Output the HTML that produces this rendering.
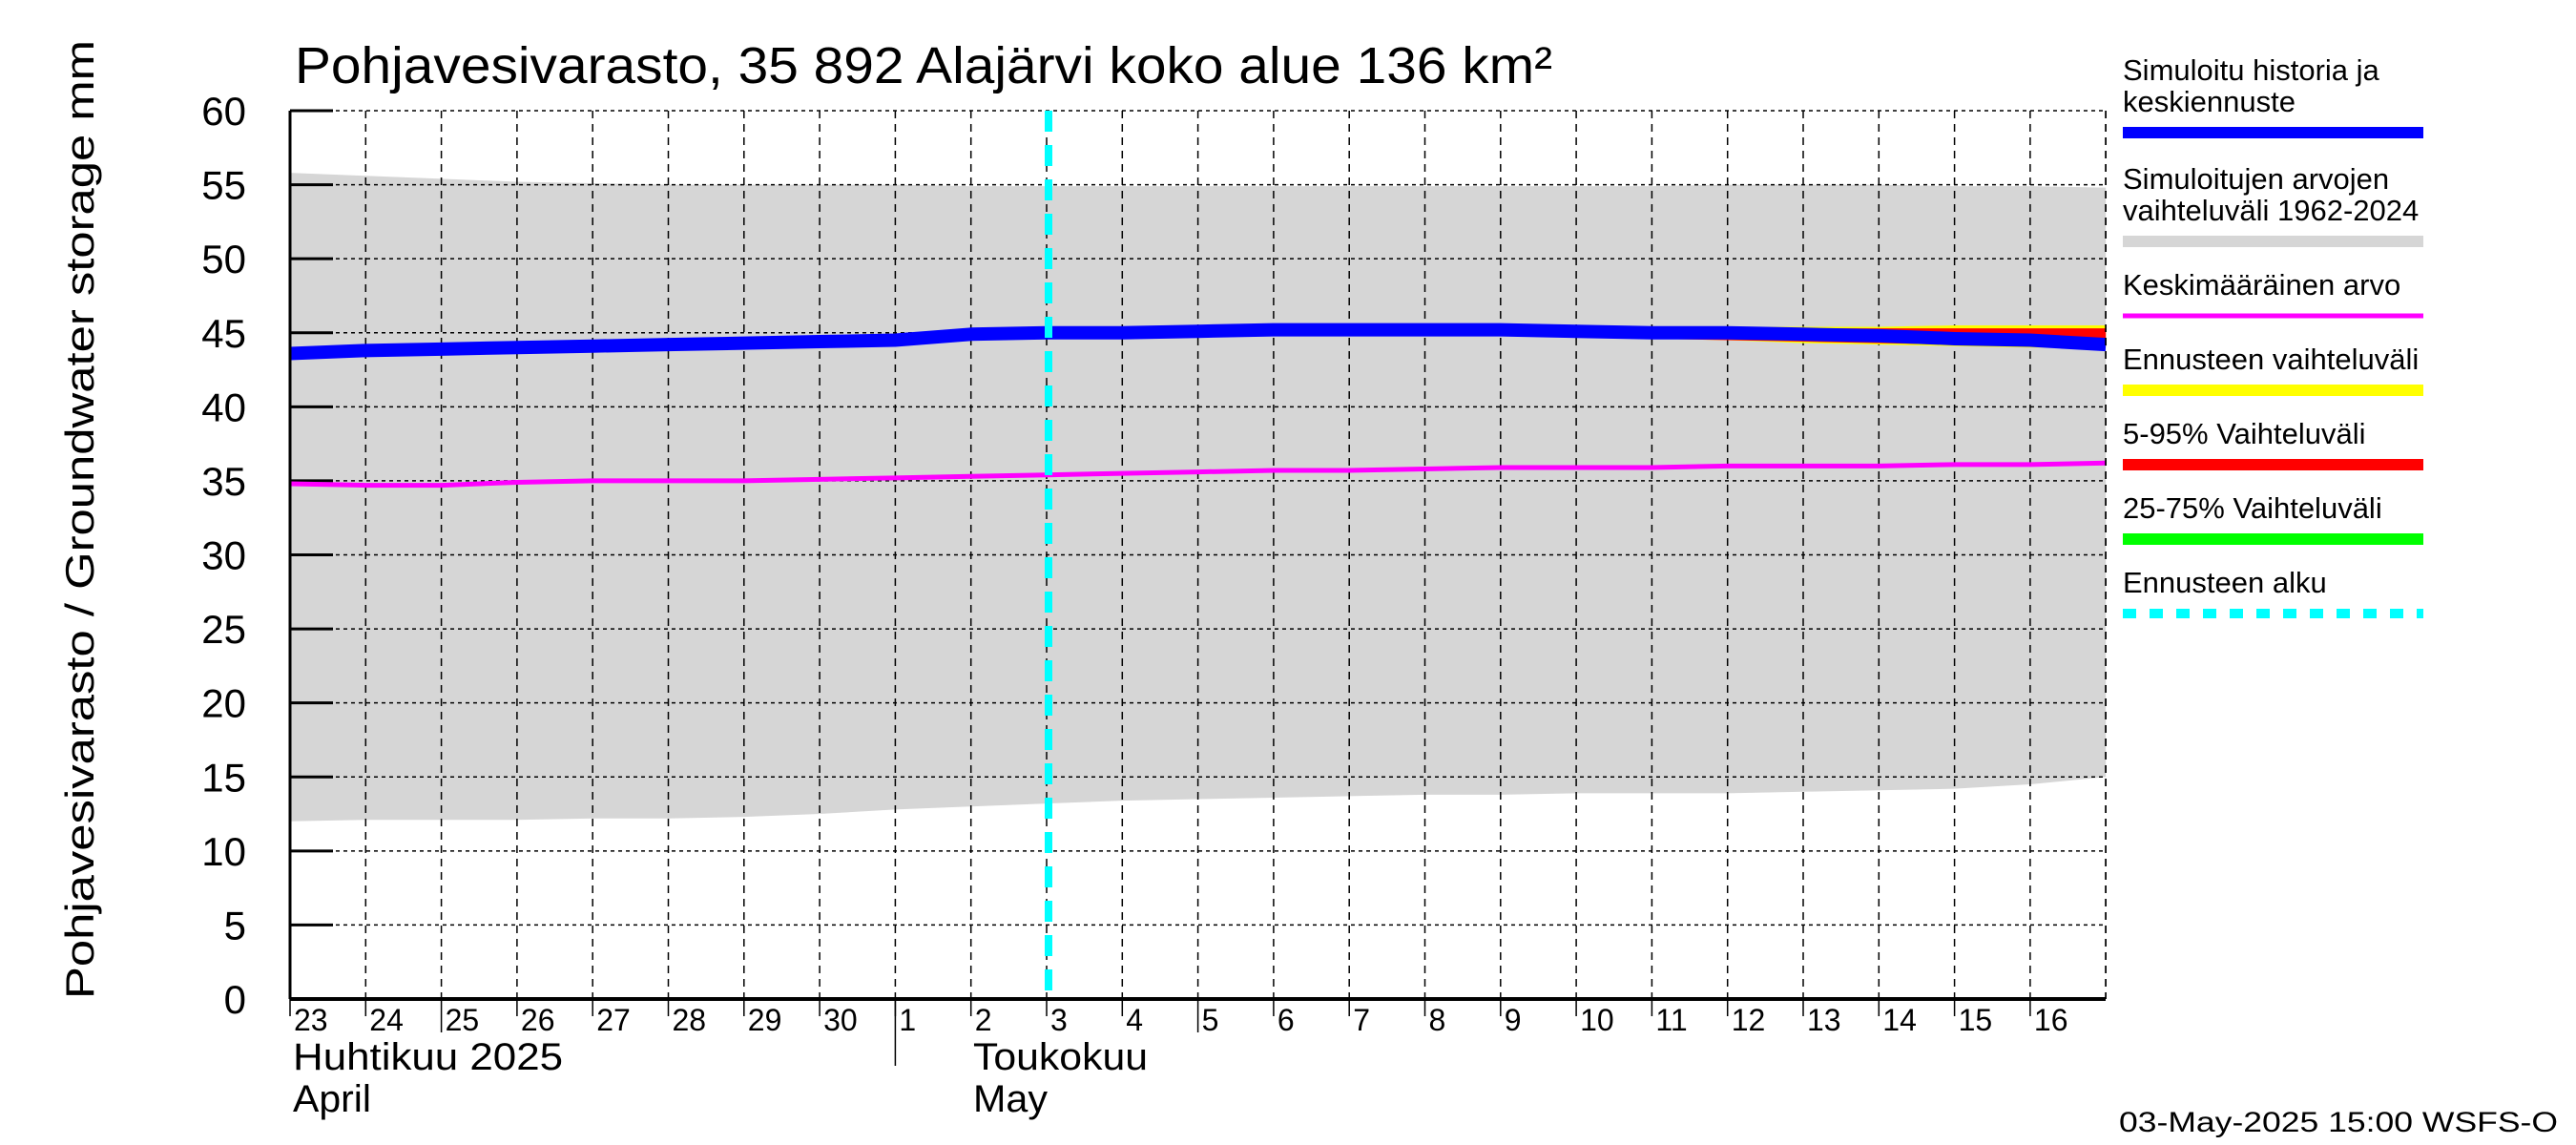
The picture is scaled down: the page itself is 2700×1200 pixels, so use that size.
<!DOCTYPE html>
<html><head><meta charset="utf-8"><style>
html,body{margin:0;padding:0;background:#fff;}
svg{display:block;font-family:"Liberation Sans",sans-serif;}
</style></head><body>
<svg id="chart" width="2700" height="1200" viewBox="0 0 2700 1200" xmlns="http://www.w3.org/2000/svg">
<g id="plot"></g>
<text x="309" y="87" font-size="54" textLength="1318" lengthAdjust="spacingAndGlyphs">Pohjavesivarasto, 35 892 Alajärvi koko alue 136 km²</text>
<text transform="translate(98,1047) rotate(-90)" font-size="42" textLength="1005" lengthAdjust="spacingAndGlyphs">Pohjavesivarasto / Groundwater storage   mm</text>
<g id="legend"></g>
<text x="307" y="1121" font-size="40" textLength="283" lengthAdjust="spacingAndGlyphs">Huhtikuu  2025</text>
<text x="307" y="1165" font-size="40" textLength="82" lengthAdjust="spacingAndGlyphs">April</text>
<text x="1020" y="1121" font-size="40" textLength="183" lengthAdjust="spacingAndGlyphs">Toukokuu</text>
<text x="1020" y="1165" font-size="40" textLength="78" lengthAdjust="spacingAndGlyphs">May</text>
<text x="2221" y="1186" font-size="30" textLength="460" lengthAdjust="spacingAndGlyphs">03-May-2025 15:00 WSFS-O</text>
</svg>
<script>
const dayLabels = ["23","24","25","26","27","28","29","30","1","2","3","4","5","6","7","8","9","10","11","12","13","14","15","16"];
const yTicks = [0,5,10,15,20,25,30,35,40,45,50,55,60];
const rangeUpper = [55.8,55.6,55.4,55.2,55.1,55.0,55.0,55.0,55.0,54.9,54.9,54.9,54.9,54.9,54.9,54.9,54.9,54.9,54.9,55.0,55.0,55.0,54.9,54.9,54.8];
const rangeLower = [12.0,12.1,12.1,12.1,12.2,12.2,12.3,12.5,12.8,13.0,13.2,13.4,13.5,13.6,13.7,13.8,13.8,13.9,13.9,13.9,14.0,14.1,14.2,14.5,15.0];
const simulated = [43.6,43.8,43.9,44.0,44.1,44.2,44.3,44.4,44.5,44.9,45.0,45.0,45.1,45.2,45.2,45.2,45.2,45.1,45.0,45.0,44.9,44.8,44.6,44.5,44.2];
const meanValue = [34.8,34.7,34.7,34.9,35.0,35.0,35.0,35.1,35.2,35.3,35.4,35.5,35.6,35.7,35.7,35.8,35.9,35.9,35.9,36.0,36.0,36.0,36.1,36.1,36.2];
const forecastStart = 10;
const fcHigh = [45.0,45.0,45.1,45.2,45.2,45.3,45.3,45.3,45.3,45.4,45.4,45.4,45.5,45.5,45.5];
const fcLow = [45.0,45.0,45.0,45.0,45.0,44.9,44.8,44.7,44.6,44.5,44.3,44.2,44.1,44.0,44.0];
const p95High = [45.0,45.0,45.1,45.1,45.2,45.2,45.2,45.2,45.2,45.3,45.3,45.3,45.3,45.3,45.3];
const p95Low = [45.0,45.0,45.0,45.0,45.0,44.9,44.8,44.7,44.6,44.5,44.4,44.3,44.2,44.1,44.1];

const NS="http://www.w3.org/2000/svg";
const X0=304, DX=79.3, Y0=1047, YTOP=116, XR=2207;
const xs=i=>X0+i*DX;
const ys=v=>Y0-(v/60)*(Y0-YTOP);
const plot=document.getElementById('plot');
function mk(tag,attrs,parent){const e=document.createElementNS(NS,tag);for(const k in attrs)e.setAttribute(k,attrs[k]);(parent||plot).appendChild(e);return e;}
function band(hi,lo,off){let d='';hi.forEach((v,i)=>{d+=(i?'L':'M')+xs(i+off)+','+ys(v);});for(let i=lo.length-1;i>=0;i--)d+='L'+xs(i+off)+','+ys(lo[i]);return d+'Z';}
function line(arr,off){return arr.map((v,i)=>(i?'L':'M')+xs(i+off)+','+ys(v)).join('');}

let e;
e=mk('path',{d:band(rangeUpper,rangeLower,0),fill:'#d6d6d6'});


// grid
yTicks.forEach(t=>{
  e=mk('line',{x1:X0,x2:XR,y1:ys(t),y2:ys(t),stroke:'#000','stroke-width':1.5,'stroke-dasharray':'4,4'});
  
  
  e=mk('line',{x1:X0,x2:X0+45,y1:ys(t),y2:ys(t),stroke:'#000','stroke-width':3});
  
  
  e=mk('text',{x:258,y:ys(t)+15,'font-size':42,'text-anchor':'end'});
  e.textContent=t;
  
  
});
for(let i=1;i<=24;i++){
  e=mk('line',{x1:xs(i),x2:xs(i),y1:YTOP,y2:Y0,stroke:'#000','stroke-width':1.5,'stroke-dasharray':'8,6'});
  
  
}
dayLabels.forEach((l,i)=>{
  e=mk('line',{x1:xs(i),x2:xs(i),y1:Y0,y2:Y0+(i===2||i===12?35:18),stroke:'#000','stroke-width':1.5});
  
  
  e=mk('text',{x:xs(i)+4,y:1080,'font-size':32});
  e.textContent=l;
  
  
});
e=mk('line',{x1:xs(8),x2:xs(8),y1:Y0,y2:1117,stroke:'#000','stroke-width':1.5});


// series
e=mk('path',{d:band(fcHigh,fcLow,forecastStart),fill:'#ffff00'});


e=mk('path',{d:band(p95High,p95Low,forecastStart),fill:'#ff0000'});


e=mk('path',{d:line(meanValue,0),fill:'none',stroke:'#ff00ff','stroke-width':5});


e=mk('path',{d:line(simulated,0),fill:'none',stroke:'#0000ff','stroke-width':14});


e=mk('line',{x1:xs(forecastStart)+2,x2:xs(forecastStart)+2,y1:YTOP,y2:Y0,stroke:'#00ffff','stroke-width':8,'stroke-dasharray':'22,14'});


// axes
e=mk('line',{x1:X0,x2:X0,y1:YTOP,y2:Y0,stroke:'#000','stroke-width':3});


e=mk('line',{x1:X0,x2:XR,y1:Y0,y2:Y0,stroke:'#000','stroke-width':4});


e=mk('line',{x1:XR,x2:XR,y1:YTOP,y2:Y0,stroke:'#000','stroke-width':1.5,'stroke-dasharray':'8,6'});



// legend
const lg=document.getElementById('legend');
const LX=2225, LW=315;
const entries=[
 {lines:["Simuloitu historia ja","keskiennuste"],y:139,color:'#0000ff',w:12,name:'legend-simulated'},
 {lines:["Simuloitujen arvojen","vaihteluväli 1962-2024"],y:253,color:'#d6d6d6',w:12,name:'legend-range'},
 {lines:["Keskimääräinen arvo"],y:331,color:'#ff00ff',w:5,name:'legend-mean'},
 {lines:["Ennusteen vaihteluväli"],y:409,color:'#ffff00',w:12,name:'legend-forecast-range'},
 {lines:["5-95% Vaihteluväli"],y:487,color:'#ff0000',w:12,name:'legend-p5-95'},
 {lines:["25-75% Vaihteluväli"],y:565,color:'#00ff00',w:12,name:'legend-p25-75'},
 {lines:["Ennusteen alku"],y:643,color:'#00ffff',w:10,dash:'14,14',name:'legend-forecast-start'}
];
entries.forEach(en=>{
  const g=mk('g',{},lg);
  
  
  en.lines.forEach((t,k)=>{
    const n=en.lines.length;
    const tx=mk('text',{x:LX,y:en.y-22-(n-1-k)*33,'font-size':31},g);
    tx.textContent=t;
    
    
  });
  const a={x1:LX,x2:LX+LW,y1:en.y,y2:en.y,stroke:en.color,'stroke-width':en.w};
  if(en.dash)a['stroke-dasharray']=en.dash;
  const ln=mk('line',a,g);
  
  
});
</script>
</body></html>
